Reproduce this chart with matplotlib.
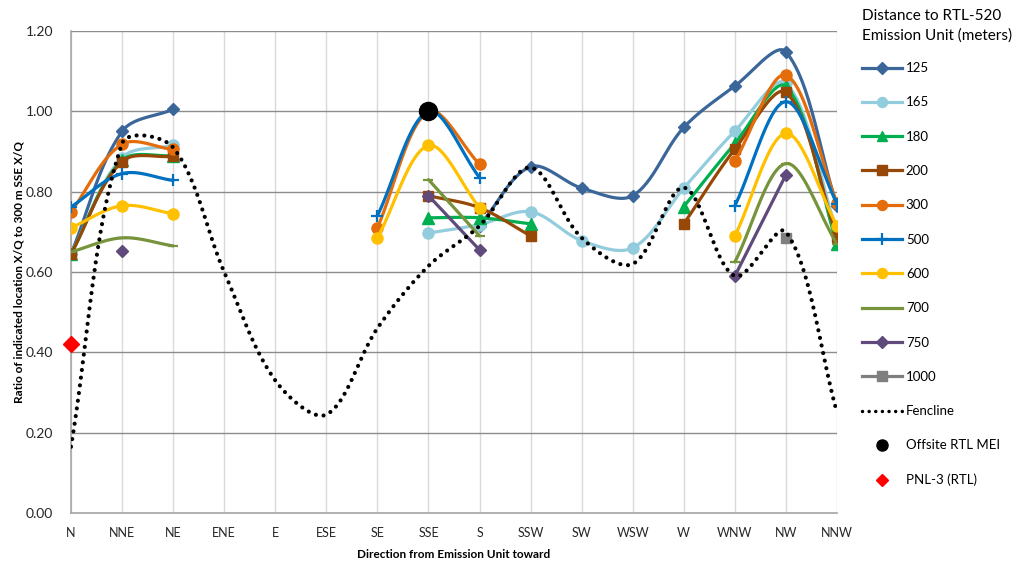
import numpy as np
import matplotlib
matplotlib.use("Agg")
import matplotlib.pyplot as plt
from matplotlib.lines import Line2D

plt.rcParams['font.family'] = ['Lato', 'DejaVu Sans']

directions = ["N", "NNE", "NE", "ENE", "E", "ESE", "SE", "SSE", "S", "SSW",
              "SW", "WSW", "W", "WNW", "NW", "NNW"]
nan = np.nan

d125 = [0.645, 0.95, 1.005, nan, nan, nan, nan, nan, 0.715, 0.862, 0.809, 0.79, 0.96, 1.063, 1.148, 0.765]
d165 = [0.645, 0.885, 0.915, nan, nan, nan, nan, 0.697, 0.718, 0.75, 0.678, 0.66, 0.809, 0.951, 1.07, 0.70]
d180 = [0.645, 0.878, 0.89, nan, nan, nan, nan, 0.735, 0.735, 0.72, nan, nan, 0.763, 0.92, 1.062, 0.67]
d200 = [0.645, 0.875, 0.888, nan, nan, nan, nan, 0.79, 0.76, 0.69, nan, nan, 0.72, 0.906, 1.047, 0.688]
d300 = [0.75, 0.918, 0.905, nan, nan, nan, 0.71, 1.0, 0.868, nan, nan, nan, nan, 0.876, 1.09, 0.772]
d500 = [0.762, 0.845, 0.828, nan, nan, nan, 0.74, 1.0, 0.835, nan, nan, nan, nan, 0.765, 1.024, 0.77]
d600 = [0.71, 0.765, 0.745, nan, nan, nan, 0.685, 0.915, 0.76, nan, nan, nan, nan, 0.69, 0.945, 0.715]
d700 = [0.65, 0.685, 0.665, nan, nan, nan, nan, 0.83, 0.69, nan, nan, nan, nan, 0.625, 0.87, 0.67]
d750 = [nan, 0.652, nan, nan, nan, nan, nan, 0.79, 0.655, nan, nan, nan, nan, 0.59, 0.842, nan]
d1000 = [nan, nan, nan, nan, nan, nan, nan, nan, nan, nan, nan, nan, nan, nan, 0.685, nan]
fence = [0.165, 0.92, 0.91, 0.60, 0.33, 0.245, 0.46, 0.615, 0.715, 0.86, 0.685, 0.62, 0.81, 0.59, 0.70, 0.25]
offsite_dir, offsite_val = "SSE", 1.0
pnl_dir, pnl_val = "N", 0.42

series = [
    ("125", d125, "#3A6699", "D", 6.5),
    ("165", d165, "#93CDDD", "o", 8),
    ("180", d180, "#00B050", "^", 8),
    ("200", d200, "#974706", "s", 7.5),
    ("300", d300, "#E46C0A", "o", 8),
    ("500", d500, "#0070C0", "+", 9),
    ("600", d600, "#FFC000", "o", 8),
    ("700", d700, "#77933C", "_", 7),
    ("750", d750, "#604A7B", "D", 6.5),
    ("1000", d1000, "#7F7F7F", "s", 7.5),
]

W, H = 1015, 564
fig = plt.figure(figsize=(W / 100, H / 100), dpi=100)
ax = fig.add_axes([71 / W, 1 - 513 / H, (837 - 71) / W, (513 - 31) / H])
ax.set_xlim(0, len(directions) - 1)
ax.set_ylim(0, 1.2)
x_all = np.arange(len(directions))


def excel_smooth(xs, ys, n=30):
    pts = ax.transData.transform(np.column_stack([xs, ys]))
    m = len(pts)
    out = [pts[0]]
    for i in range(m - 1):
        p0 = pts[max(i - 1, 0)]
        p1 = pts[i]
        p2 = pts[i + 1]
        p3 = pts[min(i + 2, m - 1)]
        d01 = np.hypot(*(p1 - p0))
        d12 = np.hypot(*(p2 - p1))
        d23 = np.hypot(*(p3 - p2))
        f1 = d12 / (d01 + d12) / 3 if d01 + d12 > 0 else 0
        f2 = d12 / (d12 + d23) / 3 if d12 + d23 > 0 else 0
        c1 = p1 + (p2 - p0) * f1
        c2 = p2 - (p3 - p1) * f2
        t = np.linspace(0, 1, n)[1:, None]
        seg = ((1 - t) ** 3) * p1 + 3 * ((1 - t) ** 2) * t * c1 + 3 * (1 - t) * t ** 2 * c2 + t ** 3 * p2
        out.extend(seg)
    out = np.array(out)
    return ax.transData.inverted().transform(out).T


def segments(vals):
    vals = np.asarray(vals, dtype=float)
    segs, cur = [], []
    for i, v in enumerate(vals):
        if np.isnan(v):
            if cur:
                segs.append(cur)
            cur = []
        else:
            cur.append(i)
    if cur:
        segs.append(cur)
    return segs


z = 3
for label, vals, color, mk, ms in series:
    vals = np.asarray(vals, dtype=float)
    for seg in segments(vals):
        xs = x_all[seg]
        ys = vals[seg]
        if len(seg) > 1:
            sx, sy = excel_smooth(xs, ys)
            ax.plot(sx, sy, color=color, lw=2.3, zorder=z, solid_capstyle='round')
        mew = 1.6 if mk in "+_" else 1
        ax.plot(xs, ys, ls='none', marker=mk, ms=ms, color=color, mec=color, mew=mew, zorder=z + 0.5)
    z += 1

fv = np.asarray(fence, dtype=float)
fx, fy = excel_smooth(x_all, fv)
ax.plot(fx, fy, color='black', lw=3.0, ls=(0, (0.01, 1.85)), dash_capstyle='round', zorder=z)
z += 1
ax.plot([directions.index(offsite_dir)], [offsite_val], ls='none', marker='o', ms=13,
        color='black', zorder=z)
ax.plot([directions.index(pnl_dir)], [pnl_val], ls='none', marker='D', ms=8,
        color='#FF0000', zorder=z, clip_on=False)

ax.set_xticks(x_all)
ax.set_xticklabels(directions, fontsize=9, color='#262626')
ax.set_yticks(np.arange(0, 1.21, 0.2))
ax.set_yticklabels([f"{v:.2f}" for v in np.arange(0, 1.21, 0.2)], fontsize=10, color='#262626')
ax.tick_params(axis='x', length=0, pad=10)
ax.tick_params(axis='y', length=0, pad=13)
ax.grid(axis='y', color='#8C8C8C', lw=1.0)
ax.grid(axis='x', color='#D9D9D9', lw=1.0)
ax.set_axisbelow(True)
for s in ['top', 'right']:
    ax.spines[s].set_visible(False)
for s in ['left', 'bottom']:
    ax.spines[s].set_color('#A6A6A6')
    ax.spines[s].set_linewidth(1.2)

ax.set_xlabel("Direction from Emission Unit toward", fontsize=8.5, fontweight='bold', labelpad=7)
ax.set_ylabel("Ratio of indicated location X/Q to 300 m SSE X/Q", fontsize=8.5, fontweight='bold', labelpad=0.5)

handles = []
for label, vals, color, mk, ms in series:
    mew = 1.6 if mk in "+_" else 1
    handles.append(Line2D([], [], color=color, lw=2.3, marker=(mk if mk != "_" else None),
                          ms=ms * 0.9, mec=color, mew=mew, label=label))
handles.append(Line2D([], [], color='black', lw=2.5, ls=(0, (0.01, 1.9)), dash_capstyle='round',
                      label="Fencline"))
handles.append(Line2D([], [], color='black', ls='none', marker='o', ms=8, label="Offsite RTL MEI"))
handles.append(Line2D([], [], color='#FF0000', ls='none', marker='D', ms=6, label="PNL-3 (RTL)"))

leg = fig.legend(handles=handles, loc='upper left', bbox_to_anchor=(857 / W, 1 - 4 / H),
                 frameon=False, fontsize=9.5, title="Distance to RTL-520\nEmission Unit (meters)",
                 title_fontsize=11, alignment='left', handlelength=3.0, handletextpad=0.3,
                 labelspacing=1.69, borderaxespad=0)
leg.get_title().set_linespacing(1.45)
leg._legend_box.sep = 14

fig.savefig("out.png", dpi=100)
